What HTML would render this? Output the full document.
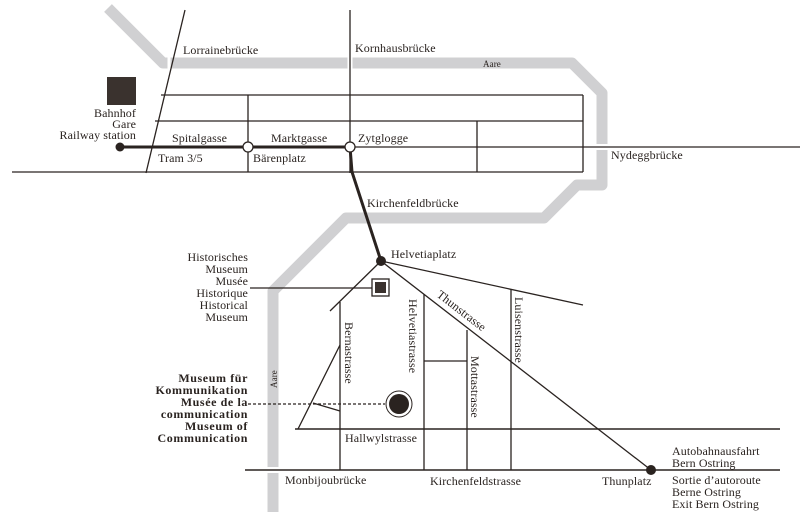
<!DOCTYPE html>
<html><head><meta charset="utf-8"><style>
html,body{margin:0;padding:0;background:#fff}
svg{display:block}
text{font-family:"Liberation Serif",serif;font-size:12px;fill:#2a2320;letter-spacing:0.1px}
.b{font-weight:bold;letter-spacing:0.6px}
</style></head><body>
<svg width="800" height="527" viewBox="0 0 800 527">
<g fill="none" stroke="#d0d0d2" stroke-width="11" stroke-linejoin="round">
<path d="M108 8 L163 63 L572 63 L602 93 L602 185 L577 185 L544 218 L346 218 L273 291 L273 512"/>
</g>
<g stroke="#fff" stroke-width="4">
<line x1="169" y1="56" x2="169" y2="70" stroke-width="3"/>
<line x1="350" y1="56" x2="350" y2="70" stroke-width="5"/>
<line x1="595" y1="147" x2="610" y2="147" stroke-width="6"/>
<line x1="266" y1="470" x2="281" y2="470" stroke-width="6"/>
</g>
<g stroke="#2a2320" stroke-width="1.3" fill="none">
<line x1="185" y1="10" x2="146" y2="173"/>
<line x1="350" y1="10" x2="350" y2="173"/>
<line x1="161" y1="95" x2="583" y2="95"/>
<line x1="155" y1="121" x2="583" y2="121"/>
<line x1="120" y1="147" x2="800" y2="147"/>
<line x1="12" y1="172" x2="583" y2="172"/>
<line x1="248" y1="95" x2="248" y2="172"/>
<line x1="477" y1="121" x2="477" y2="172"/>
<line x1="583" y1="95" x2="583" y2="172"/>
<line x1="381" y1="261" x2="583" y2="305"/>
<line x1="381" y1="261" x2="330" y2="311"/>
<line x1="381" y1="261" x2="651" y2="470"/>
<line x1="250" y1="288" x2="374" y2="288"/>
<line x1="340" y1="302" x2="340" y2="470"/>
<line x1="424" y1="294" x2="424" y2="470"/>
<line x1="467" y1="330" x2="467" y2="470"/>
<line x1="511" y1="289" x2="511" y2="470"/>
<line x1="424" y1="361" x2="467" y2="361"/>
<line x1="295" y1="429" x2="780" y2="429" stroke-width="1.6"/>
<line x1="245" y1="470" x2="780" y2="470" stroke-width="1.6"/>
<line x1="298" y1="429" x2="340" y2="345"/>
<line x1="313" y1="403" x2="340" y2="411"/>
<line x1="248" y1="404" x2="385" y2="404" stroke-dasharray="3,2"/>
</g>
<path d="M120 147 L350 147 L352 172 L381 261" fill="none" stroke="#2a2320" stroke-width="3"/>
<circle cx="248" cy="147" r="5" fill="#fff" stroke="#2a2320" stroke-width="1.3"/>
<circle cx="350" cy="147" r="5" fill="#fff" stroke="#2a2320" stroke-width="1.3"/>
<circle cx="120" cy="147" r="4.5" fill="#2a2320"/>
<circle cx="381" cy="261" r="5" fill="#2a2320"/>
<circle cx="651" cy="470" r="5" fill="#2a2320"/>
<rect x="107" y="77" width="29" height="28" fill="#3a322e"/>
<rect x="372" y="279" width="17" height="17" fill="#fff" stroke="#2a2320" stroke-width="1.3"/>
<rect x="375" y="282" width="11" height="11" fill="#3a322e"/>
<circle cx="399" cy="404" r="13" fill="#fff" stroke="#2a2320" stroke-width="1"/>
<circle cx="399" cy="404" r="10" fill="#2a2320"/>
<text x="183" y="54">Lorrainebrücke</text>
<text x="355" y="52">Kornhausbrücke</text>
<text x="483" y="67" style="font-size:9px">Aare</text>
<text x="136" y="117" text-anchor="end">Bahnhof</text>
<text x="136" y="128" text-anchor="end">Gare</text>
<text x="136" y="139" text-anchor="end">Railway station</text>
<text x="172" y="142">Spitalgasse</text>
<text x="271" y="142">Marktgasse</text>
<text x="358" y="142">Zytglogge</text>
<text x="158" y="162">Tram 3/5</text>
<text x="253" y="162">Bärenplatz</text>
<text x="611" y="159">Nydeggbrücke</text>
<text x="367" y="207">Kirchenfeldbrücke</text>
<text x="391" y="258">Helvetiaplatz</text>
<text x="248" y="261" text-anchor="end">Historisches</text>
<text x="248" y="273" text-anchor="end">Museum</text>
<text x="248" y="285" text-anchor="end">Musée</text>
<text x="248" y="297" text-anchor="end">Historique</text>
<text x="248" y="309" text-anchor="end">Historical</text>
<text x="248" y="321" text-anchor="end">Museum</text>
<text class="b" x="248" y="382" text-anchor="end">Museum für</text>
<text class="b" x="248" y="394" text-anchor="end">Kommunikation</text>
<text class="b" x="248" y="406" text-anchor="end">Musée de la</text>
<text class="b" x="248" y="418" text-anchor="end">communication</text>
<text class="b" x="248" y="430" text-anchor="end">Museum of</text>
<text class="b" x="248" y="442" text-anchor="end">Communication</text>
<text x="277" y="388" transform="rotate(-90 277 388)" style="font-size:9px">Aare</text>
<text x="345" y="322" transform="rotate(90 345 322)">Bernastrasse</text>
<text x="409" y="299" transform="rotate(90 409 299)">Helvetiastrasse</text>
<text x="471" y="356" transform="rotate(90 471 356)">Mottastrasse</text>
<text x="515" y="297" transform="rotate(90 515 297)">Luisenstrasse</text>
<text x="436" y="296" transform="rotate(37.7 436 296)">Thunstrasse</text>
<text x="345" y="442">Hallwylstrasse</text>
<text x="285" y="484">Monbijoubrücke</text>
<text x="430" y="485">Kirchenfeldstrasse</text>
<text x="602" y="485">Thunplatz</text>
<text x="672" y="455">Autobahnausfahrt</text>
<text x="672" y="467">Bern Ostring</text>
<text x="672" y="484">Sortie d’autoroute</text>
<text x="672" y="496">Berne Ostring</text>
<text x="672" y="508">Exit Bern Ostring</text>
</svg>
</body></html>
